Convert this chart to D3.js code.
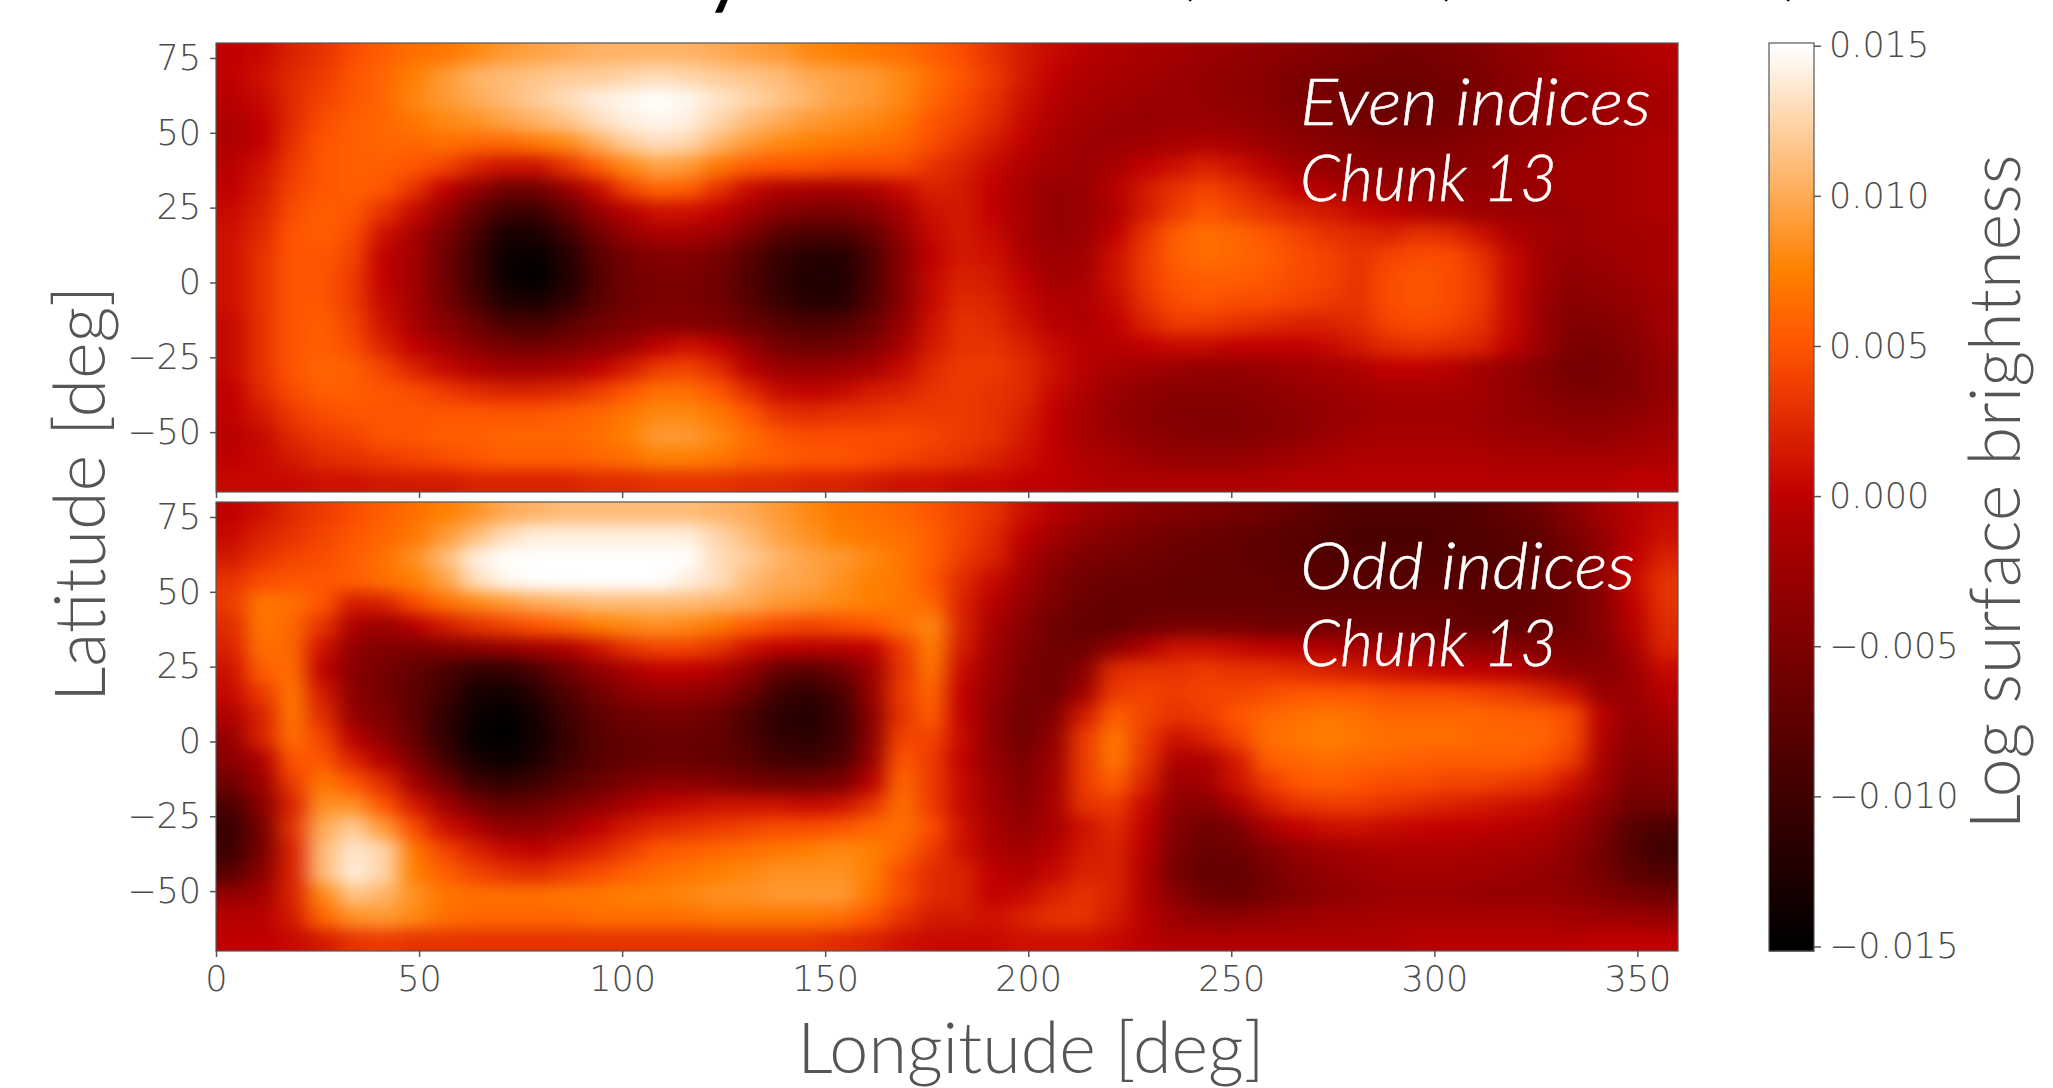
<!DOCTYPE html>
<html>
<head>
<meta charset="utf-8">
<script src="https://cdn.jsdelivr.net/npm/d3@7"></script>
<style>
  html, body { margin: 0; padding: 0; background: #fff; overflow: hidden; }
  text { fill: #555; }
  .axis text { font-family: "DejaVu Sans"; font-weight: 200; font-size: 35px; fill: #4d4d4d; }
  .axis line { stroke: #555; stroke-width: 1.5; }
  .axis path { display: none; }
  .axis-title { font-family: Lato; font-weight: 300; font-size: 70px; text-anchor: middle; }
  .note { font-family: Lato; font-weight: 300; font-style: italic; font-size: 66px; fill: #fff; stroke: #fff; stroke-width: 0.5; }
</style>
</head>
<body>
<script>
// brightness values in units of 1e-3, rows run north to south, 7.5 deg cells
const evenIndices = [
  [0,0.5,2,3,4.5,5.5,6.5,7,8,9,9.5,10,10.5,10.5,10.5,10.5,10,9.5,9,8,7.5,7,6.5,5.5,4.5,3,1.5,0.5,-0.5,-1,-1.5,-2,-2.5,-3,-3.5,-4,-4.5,-5,-5.5,-5.5,-5,-4.5,-3.5,-3,-2,-1.5,-1,-0.5],
  [0,1,2.5,3.5,5,6,7.5,9,10.5,11,11.5,12,12,12.5,13,12.5,12,11.5,11,10,9.5,9,8,6.5,5,3.5,1.5,0,-1,-1.5,-2,-2.5,-3,-3.5,-4,-5,-5.5,-6,-6,-6,-5.5,-5,-4,-3,-2.5,-2,-1.5,-1],
  [-0.5,0.5,2.5,4,5,6,8,9,10,11,12,13,14,14.5,15,14.5,13.5,12.5,11.5,10.5,9.5,9,8,6,4.5,3,1,-0.5,-1.5,-2,-2.5,-2.5,-3,-3.5,-4,-5,-5.5,-6,-6.5,-6.5,-6,-5,-4,-3.5,-3,-2.5,-2,-1.5],
  [-1,0,2.5,4.5,5.5,6,7,8,8.5,9.5,10.5,11.5,13,14,14.5,14,12.5,11,10,9,8.5,8,7,5,4,2.5,0.5,-1,-2,-2.5,-3,-2.5,-2.5,-3,-3.5,-4.5,-5,-5.5,-6,-6,-5.5,-5,-4,-3.5,-3,-2.5,-2,-1.5],
  [-1,0,3,5,5.5,6,6,6.5,6,6,7,8,10,12,13,12.5,10.5,9,8,7.5,7,6.5,6,4.5,3,1.5,0,-1.5,-2.5,-2.5,-2,-1.5,-1,-1.5,-2.5,-3.5,-4,-4.5,-5,-5,-4.5,-4,-3.5,-3,-2.5,-2,-1.5,-1],
  [-0.5,1,3.5,5,5.5,5.5,5,4,2,1,1,3,5.5,8,9.5,9,7,5.5,5,5,4.5,4.5,4.5,3,2,0.5,-1,-2,-2.5,-1.5,0,1,2,1,-0.5,-2,-3,-3.5,-4,-4,-4,-3.5,-3,-2.5,-2,-2,-1.5,-1],
  [0,1.5,4,5,5.5,5,3,0,-3,-6,-6,-3,0.5,4,6,5.5,3,0.5,-1,-1.5,-1.5,-1,0.5,2,1.5,0,-1.5,-3,-2.5,-0.5,1.5,3,4,3,1.5,0,-1,-2,-2.5,-3,-3,-3,-2.5,-2.5,-2,-2,-1.5,-1],
  [0.5,2,4.5,5.5,5,3,0.5,-3,-7,-10,-10,-7,-3,-0.5,1,1,0,-2,-4,-5,-5,-4,-1.5,1,1.5,0,-1.5,-3,-2.5,-1,1.5,3.5,5,4,3,2,1.5,0.5,0,-1,-1.5,-2.5,-2.5,-2.5,-2.5,-2,-1.5,-1],
  [1,2.5,5,5.5,4.5,1,-1.5,-5,-9,-13,-13,-10,-6,-3,-1.5,-1.5,-2.5,-5,-8,-9,-9,-7,-3,0.5,1.5,0.5,-1.5,-3,-2.5,0,3,5.5,6.5,6,5,4,3,2.5,2,3,2.5,1,-1,-2,-2.5,-2,-2,-1.5],
  [1,3,5,5,4,0,-2,-6,-10,-14,-14.5,-12,-8,-5.5,-4.5,-4.5,-5.5,-8,-10.5,-12,-12,-9,-4,0,1.5,1,-1,-2.5,-2,1,3.5,5.5,6.5,6,5.5,4.5,4,3,4,4.5,4.5,3,0.5,-2,-3,-2.5,-2,-1.5],
  [1,3,5,5,3.5,0,-2,-6,-10,-14,-15,-12.5,-8.5,-6,-5,-5,-6,-8.5,-11,-12.5,-12.5,-9,-4,0.5,2,1.5,0,-2,-1.5,1,3.5,5,5.5,5.5,5,4.5,4,3,4.5,5,4.5,3.5,0.5,-2,-3.5,-3,-2.5,-1.5],
  [1,3,5,5,3.5,0.5,-2,-5.5,-9,-12.5,-13,-11,-8,-6,-5,-5,-6,-8,-10.5,-12,-12,-8.5,-4,0.5,2.5,2,0.5,-1,-1,0.5,3,4.5,5,4.5,4.5,4,3.5,3,4.5,5,4.5,3.5,0.5,-2.5,-4,-3.5,-3,-2],
  [0.5,3,5,5.5,4,1,-1.5,-4,-6.5,-9,-9.5,-8,-6,-5,-4.5,-4.5,-5,-6.5,-8,-9,-8.5,-6.5,-3,1,3,2.5,1,-0.5,-1,0,2,3.5,3.5,3,2.5,2,2,2.5,4,4.5,4,3,0.5,-2.5,-4.5,-4.5,-3.5,-2],
  [0.5,3,5,5.5,4.5,2,0,-2,-4,-5.5,-6,-5,-4,-2.5,0,1,0,-3,-5.5,-6.5,-6,-4.5,-1.5,1.5,3,3,2,0.5,-0.5,-0.5,0,0.5,0.5,0,0,0,0.5,1.5,2.5,3,2.5,2,0,-2.5,-5,-5,-4,-2.5],
  [0.5,3,5,6,5.5,4,2,0.5,-1,-2,-2,-1.5,0,1.5,3.5,4,2.5,-0.5,-2.5,-3,-2.5,-1.5,0.5,2.5,3.5,3.5,2.5,1,-0.5,-1.5,-2,-2.5,-3,-3,-2.5,-2,-1.5,-1,0,0,-0.5,-2,-3,-4.5,-5.5,-5.5,-4.5,-3],
  [0,2.5,4.5,5.5,5.5,5,4.5,3.5,2.5,2,2,2.5,3.5,5,6.5,6.5,5,2.5,0.5,0,0.5,1.5,2,3,3.5,3,2.5,0.5,-1,-2.5,-3.5,-4,-4,-4,-3.5,-3,-2.5,-2,-1.5,-1.5,-1.5,-2,-3,-4,-5,-5,-4.5,-3],
  [0,1.5,3.5,4.5,5,5,5,5,5,5,5,5.5,6,7,8,8,7,5,3,2.5,3,3,3.5,3.5,3.5,3,2,0,-1.5,-3,-4,-4.5,-4.5,-4.5,-4,-3.5,-3,-2.5,-2,-2,-2,-2.5,-3,-3.5,-4,-4,-3.5,-2.5],
  [-0.5,0.5,2.5,3.5,4,5,5,5.5,5.5,6,6,6,6.5,7.5,9,9,8,6.5,5,4.5,4.5,4.5,4.5,4,3.5,3,1.5,0,-1.5,-2.5,-3.5,-4,-4.5,-4.5,-4,-3.5,-2.5,-2,-1.5,-1.5,-1.5,-2,-2.5,-2.5,-3,-3,-2.5,-2],
  [0,0.5,1.5,2.5,3,3.5,4,4.5,5,5.5,5.5,5.5,6,6.5,7.5,7.5,7,6,5.5,5,5,4.5,4,3.5,3,2,1,0,-1,-1.5,-2.5,-3,-3,-3,-2.5,-2,-1.5,-1,-1,-1,-1,-1,-1.5,-1.5,-1.5,-1.5,-1.5,-1],
  [0.5,0.5,0.5,1,1,1.5,1.5,1.5,2,2,2,2,2.5,2.5,3,3,3,2.5,2.5,2,2,1.5,1,1,0.5,0.5,0,0,-0.5,-1,-1,-1,-1,-1,-1,-0.5,-0.5,-0.5,-0.5,-0.5,-0.5,-0.5,-0.5,-0.5,-0.5,-0.5,0,0]
];
const oddIndices = [
  [0,1,2.5,3.5,4.5,5.5,6.5,7.5,8.5,10,10.5,11,11,11,11,11,10.5,10,9,8,7,6.5,6,5,4,3,1,-0.5,-2,-3,-4,-4.5,-5,-5.5,-6,-7,-8,-8.5,-8.5,-8.5,-8.5,-8,-7,-6,-4,-2,-0.5,0.5],
  [0.5,2,3,4,5,6,7,9,11,13,14,14,14,14,14,14,12.5,11,9.5,8.5,7.5,7,6.5,5.5,4,2.5,0,-2,-3.5,-4.5,-5.5,-6,-6.5,-7,-7.5,-8,-8.5,-9,-9,-9,-8.5,-8.5,-8,-7,-5,-3,-0.5,1],
  [1.5,3,4,4.5,5.5,6.5,8.5,11,14,15,15,15,15,15,15,15,13,12,10.5,9.5,9,8,7,5.5,3.5,2,-1,-3.5,-5,-5.5,-6,-6.5,-7,-7,-7.5,-8,-8.5,-8.5,-8.5,-8.5,-8.5,-8.5,-8,-7.5,-6,-3.5,0,2],
  [3,4.5,5,5,5.5,6.5,7.5,9.5,13,14.5,15,15,15,15,15,14,13,11,10,9.5,8.5,7.5,7,5,2.5,0.5,-2,-4.5,-6,-6.5,-6.5,-7,-7,-7,-7,-7.5,-8,-8,-8,-8,-8,-8,-7.5,-7,-6,-3.5,0.5,3],
  [3.5,7,6.5,5,1.5,2,4.5,6.5,8,9,10,10.5,11,11,11,11,10.5,10,9,8.5,8,7.5,7,6,2,-0.5,-3,-5,-6.5,-7,-7,-7,-7,-7,-7,-7,-7,-7,-7,-7,-7,-7.5,-7.5,-7,-6,-4,0,3],
  [2.5,7,6,3,-1,-2.5,-0.5,1.5,3,4,5,6,7.5,8,8.5,8,7,5.5,4.5,4,4.5,5,6.5,8,2,-1.5,-4,-6,-7,-7,-6,-5.5,-5.5,-5.5,-6,-6,-6,-6.5,-6.5,-6.5,-7,-7,-7,-7,-6,-4,-0.5,2.5],
  [2,6.5,6,1,-3.5,-4.5,-5,-4.5,-4,-3,-2,-1,1,3,4,4,3,1,0,-0.5,-0.5,0,3.5,7.5,1.5,-2,-4.5,-6,-6,-3.5,-1,1,1,0.5,0,-0.5,-1,-1.5,-2,-2.5,-3,-3.5,-4,-4.5,-5,-4.5,-1.5,2],
  [1,5.5,6.5,0,-4,-5.5,-7,-9,-11,-11,-9,-6,-3.5,-1.5,0,0,-1,-3.5,-7,-8,-6,-2.5,3,7,0.5,-2.5,-5,-6,-4,2.5,3,3,3.5,3,3,2.5,2,1.5,1,0.5,0,0,-0.5,-2,-3.5,-4,-2.5,0.5],
  [0.5,3.5,7,1.5,-4,-5.5,-7.5,-10,-13,-13.5,-11.5,-8.5,-6,-4,-3,-3,-4,-6.5,-10,-11,-9,-3,3.5,6,0,-3,-5.5,-6,-2,3.5,4,3.5,4,4,4.5,5,5,5,4.5,4.5,4.5,4,3.5,2.5,1,-3,-2.5,-0.5],
  [-1,2,7,2.5,-3,-5,-7.5,-11,-14,-15,-13,-10,-7.5,-6,-5.5,-5.5,-6.5,-9,-11.5,-12,-10,-4,3,5.5,0,-3.5,-6,-4.5,1.5,5.5,4,3,3.5,5,6,6.5,7,6.5,6,6,6,6,5.5,5.5,4.5,-0.5,-3,-1.5],
  [-3,2,6.5,4,-0.5,-3.5,-7,-11,-14.5,-15,-13.5,-10.5,-8,-7,-6.5,-6.5,-7,-9,-11,-11.5,-10,-4,4,4,0.5,-3.5,-6,-3.5,3.5,7,3.5,1,2,4,6.5,7,7.5,7,6.5,6.5,6.5,6,6,6,4.5,-1,-3.5,-2.5],
  [-4,-1,5,5,2,-1,-5,-9.5,-13,-14,-12.5,-10,-8,-7,-6.5,-6.5,-7,-8,-9.5,-10,-8.5,-3,5,3.5,0,-3,-5,-2.5,3.5,7,3,-1,-1,1.5,5.5,6,6.5,6,6,5.5,5.5,5.5,5.5,5,3.5,-1.5,-4,-3.5],
  [-6,-2.5,3.5,7,5,2.5,-2,-6,-10,-11,-10,-8,-6.5,-5,-4,-4,-4.5,-5.5,-6,-6,-5,-0.5,6,3.5,0.5,-2.5,-4.5,-2,3.5,5.5,2,-2.5,-2,1,3.5,5,5.5,5,4.5,4.5,4,4,3.5,3,1,-2,-5,-4.5],
  [-9,-4,2,8.5,8.5,5,1.5,-2,-5.5,-7,-6.5,-5,-3.5,-1.5,0,0.5,1,1,1,0.5,1,3,6.5,3.5,0.5,-2,-4,-1.5,3,3.5,0.5,-3.5,-4,-1.5,1.5,3,3.5,3.5,3,2.5,2,1.5,1,0.5,-1,-3.5,-6,-6],
  [-10.5,-5.5,3,10,12,9,4.5,1,-1,-3.5,-3.5,-2,0,1.5,2.5,3,3.5,4,4.5,4.5,5,6,6.5,4.5,1,-1.5,-3,-1.5,1,2.5,0,-4.5,-6,-5,-1.5,0,0.8,1,0.5,0.2,0,0,-0.5,-1,-2.5,-5,-8,-9],
  [-10,-5.5,2,11,13.5,12.5,7,4,2,0.5,0,1,2,3.5,5,5.5,6,6.5,7,7.5,8,7.5,6,3.5,1,-1,-2,-0.5,1.5,2,-0.5,-5,-6.5,-6,-4.5,-3,-2,-1.5,-1,-1,-1,-1.5,-1.5,-2,-3.5,-5.5,-8.5,-10],
  [-8,-4,2,11,14,12.5,7.5,5.5,4,3,2.5,3.5,4.5,5.5,6.5,7,7.5,8,8.5,8.5,8.5,7.5,4.5,2.5,2,0,-1,0.5,2,2,-1,-5.5,-7,-7,-5.5,-4,-3,-2.5,-2,-2,-2,-2,-2.5,-3,-4,-5.5,-7.5,-8.5],
  [-3,-2,2,8,11.5,10.5,8.5,7,6.5,6.5,6.5,7,7,7.5,7.5,8,8.5,8.5,9,9,9,7,4.5,2.5,2,0,0.5,2,3,2,-1,-4,-6,-6.5,-5.5,-4.5,-3.5,-3,-2.5,-2.5,-2.5,-3,-3,-3,-3.5,-4.5,-5.5,-6],
  [-0.5,-0.5,1.5,6,8.5,9,8,6.5,6,6,6,6,6.5,6.5,6.5,6.5,7,7,7,7,6.5,5,3,1.5,1.5,1,2,3,3,1.5,-0.5,-2.5,-3.5,-3.5,-3,-2.5,-2,-2,-1.5,-1.5,-1.5,-1.5,-1.5,-1.5,-2,-2.5,-2.5,-3],
  [0,0,0.5,1.5,3,3.5,3,3,3,3,3,3,3,3,3,3,3,3,3,3,2.5,2,1,0.5,0.5,0.5,1,1,1,0.5,-0.5,-1,-1,-1,-1,-1,-1,-1,-1,-0.5,-0.5,-0.5,-0.5,-0.5,-0.5,0,0,0]
];
const lonTicks = [0, 50, 100, 150, 200, 250, 300, 350];
const latTicks = [75, 50, 25, 0, -25, -50];
const barTicks = [0.015, 0.010, 0.005, 0, -0.005, -0.010, -0.015];
const cellDeg = 7.5;

const width = 2053, height = 1088;
const plotLeft = 216, plotRight = 1678;
const barLeft = 1769, barRight = 1814;

const svg = d3.select("body").append("svg")
    .attr("width", width)
    .attr("height", height);

// gist_heat
const color = d3.scaleLinear()
    .domain([-0.015, -0.00125, 0, 0.005, 0.0075, 0.015])
    .range(["#000000", "#ab0000", "#bf0000", "#ff5500", "#ff8000", "#ffffff"])
    .clamp(true);

const x = d3.scaleLinear().domain([0, 360]).range([plotLeft, plotRight]);

const defs = svg.append("defs");
const blur = defs.append("filter")
    .attr("id", "soft")
    .attr("filterUnits", "userSpaceOnUse")
    .attr("x", 100).attr("y", 0).attr("width", 1700).attr("height", 1088)
    .attr("color-interpolation-filters", "sRGB");
blur.append("feGaussianBlur").attr("stdDeviation", "10.5 7.5");

function drawPanel(grid, id, top, bottom, showLabels, lines, lineY, lineW) {
  const y = d3.scaleLinear().domain([-70, 80]).range([bottom, top]);

  defs.append("clipPath").attr("id", "clip" + id)
    .append("rect")
    .attr("x", plotLeft).attr("y", top)
    .attr("width", plotRight - plotLeft).attr("height", bottom - top);

  const cells = svg.append("g").attr("clip-path", "url(#clip" + id + ")")
    .append("g").attr("filter", "url(#soft)");

  // edge cells are run past the frame so the blur does not fade at the borders
  const pad = 40;
  const nRows = grid.length;
  grid.forEach(function(row, r) {
    cells.selectAll(null)
      .data(row)
      .enter()
      .append("rect")
      .attr("x", function(d, i) { return x(i * cellDeg) - (i === 0 ? pad : 0); })
      .attr("width", function(d, i) {
        return x(cellDeg) - x(0) + 0.5 + ((i === 0 || i === row.length - 1) ? pad : 0);
      })
      .attr("y", y(80 - r * cellDeg) - (r === 0 ? pad : 0))
      .attr("height", y(0) - y(cellDeg) + 0.5 + ((r === 0 || r === nRows - 1) ? pad : 0))
      .attr("shape-rendering", "crispEdges")
      .style("fill", function(d) { return color(d / 1000); });
  });

  svg.append("rect")
    .attr("x", plotLeft).attr("y", top)
    .attr("width", plotRight - plotLeft).attr("height", bottom - top)
    .style("fill", "none").style("stroke", "#555").style("stroke-width", 1.2);

  svg.append("g")
    .attr("class", "axis")
    .attr("transform", "translate(0," + bottom + ")")
    .call(d3.axisBottom(x).tickValues(lonTicks).tickSize(6).tickPadding(9)
      .tickFormat(showLabels ? d3.format("d") : ""));

  svg.append("g")
    .attr("class", "axis")
    .attr("transform", "translate(" + plotLeft + ",0)")
    .call(d3.axisLeft(y).tickValues(latTicks).tickSize(6).tickPadding(9).tickFormat(d3.format("d")));

  svg.selectAll(null)
    .data(lines)
    .enter()
    .append("text")
    .attr("class", "note")
    .attr("x", 1300)
    .attr("y", function(d, i) { return lineY[i]; })
    .attr("textLength", function(d, i) { return lineW[i]; })
    .attr("lengthAdjust", "spacingAndGlyphs")
    .text(function(d) { return d; });
}

drawPanel(evenIndices, "even", 43, 492, false, ["Even indices", "Chunk 13"], [125, 201], [351, 257]);
drawPanel(oddIndices, "odd", 502, 951, true, ["Odd indices", "Chunk 13"], [589, 666], [335, 257]);

// colour bar
const barY = d3.scaleLinear().domain([-0.01515, 0.01509]).range([951, 43]);
svg.append("g").selectAll("rect")
    .data(d3.range(0, 454))
    .enter()
    .append("rect")
    .attr("x", barLeft)
    .attr("y", function(d) { return 43 + d * 2; })
    .attr("width", barRight - barLeft)
    .attr("height", 2.5)
    .style("fill", function(d) { return color(barY.invert(44 + d * 2)); });

svg.append("rect")
    .attr("x", barLeft).attr("y", 43)
    .attr("width", barRight - barLeft).attr("height", 908)
    .style("fill", "none").style("stroke", "#555").style("stroke-width", 1.2);

svg.append("g")
    .attr("class", "axis")
    .attr("transform", "translate(" + barRight + ",0)")
    .call(d3.axisRight(barY).tickValues(barTicks).tickSize(7).tickPadding(8).tickFormat(d3.format(".3f")));

// axis titles
svg.append("text").attr("class", "axis-title")
    .attr("x", 1031).attr("y", 1073)
    .text("Longitude [deg]");

svg.append("text").attr("class", "axis-title")
    .attr("transform", "translate(105,494) rotate(-90)")
    .text("Latitude [deg]");

svg.append("text").attr("class", "axis-title")
    .attr("transform", "translate(2020,492) rotate(-90)")
    .text("Log surface brightness");

// the figure title is cut off by the top of the page, only descenders remain
const titleBits = ["y", ",", ",", ","];
const titleBitX = [708, 1185, 1441, 1783];
svg.selectAll(null)
    .data(titleBits)
    .enter()
    .append("text")
    .attr("x", function(d, i) { return titleBitX[i]; })
    .attr("y", function(d, i) { return i === 0 ? 1 : -8; })
    .style("font-family", "Lato")
    .style("font-size", "64px")
    .style("fill", "#000")
    .style("stroke", "#000")
    .style("stroke-width", 1.5)
    .text(function(d) { return d; });
</script>
</body>
</html>
